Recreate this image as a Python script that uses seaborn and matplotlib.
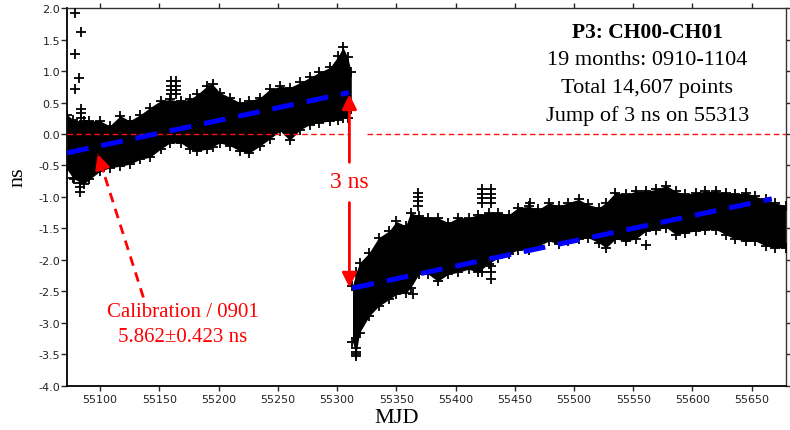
import numpy as np
import pandas as pd
import matplotlib
matplotlib.use("Agg")
import matplotlib.pyplot as plt
import seaborn as sns

# ---------------- data ----------------
# segment 1 (before the jump): MJD, upper / lower envelope of the scatter band (ns)
seg1_mjd = [55072, 55077, 55086, 55091, 55100, 55108, 55117, 55125, 55134, 55142,
            55151, 55159, 55168, 55176, 55182, 55190, 55195, 55201, 55210, 55218,
            55226, 55235, 55243, 55252, 55260, 55269, 55277, 55285, 55294, 55301,
            55305, 55309, 55312]
seg1_high = [0.31, 0.23, 0.20, 0.21, 0.21, 0.13, 0.29, 0.21, 0.31, 0.42,
             0.53, 0.55, 0.52, 0.56, 0.63, 0.76, 0.79, 0.66, 0.58, 0.50,
             0.53, 0.58, 0.71, 0.76, 0.74, 0.82, 0.90, 0.98, 1.06, 1.24,
             1.38, 1.22, 0.98]
seg1_low = [-0.56, -0.70, -0.80, -0.72, -0.59, -0.54, -0.51, -0.48, -0.40, -0.37,
            -0.24, -0.14, -0.14, -0.24, -0.27, -0.24, -0.20, -0.14, -0.19, -0.27,
            -0.30, -0.19, -0.08, 0.05, -0.10, 0.07, 0.15, 0.18, 0.21, 0.23,
            0.25, 0.26, 0.40]

# segment 2 (after the jump)
seg2_mjd = [55313, 55316, 55319, 55327, 55335, 55344, 55350, 55358, 55362, 55369,
            55377, 55385, 55394, 55402, 55411, 55419, 55428, 55436, 55445, 55453,
            55462, 55470, 55479, 55487, 55495, 55504, 55512, 55521, 55527, 55535,
            55544, 55552, 55561, 55569, 55578, 55586, 55594, 55603, 55611, 55620,
            55628, 55636, 55645, 55653, 55662, 55670, 55679]
seg2_high = [-2.42, -2.20, -2.05, -1.89, -1.65, -1.54, -1.39, -1.46, -1.25, -1.30,
             -1.33, -1.33, -1.41, -1.33, -1.33, -1.28, -1.25, -1.25, -1.28, -1.17,
             -1.15, -1.20, -1.09, -1.15, -1.09, -1.04, -1.12, -1.17, -1.09, -0.93,
             -0.96, -0.91, -0.91, -0.88, -0.82, -0.91, -0.96, -0.93, -0.91, -0.91,
             -0.93, -0.96, -0.93, -0.99, -1.04, -1.09, -1.15]
seg2_low = [-3.30, -3.50, -3.16, -2.90, -2.74, -2.63, -2.55, -2.53, -2.45, -2.23,
            -2.23, -2.34, -2.23, -2.20, -2.15, -2.20, -2.06, -1.97, -1.91, -1.84,
            -1.84, -1.78, -1.70, -1.75, -1.70, -1.67, -1.65, -1.73, -1.81, -1.67,
            -1.70, -1.67, -1.54, -1.52, -1.49, -1.60, -1.57, -1.54, -1.52, -1.52,
            -1.60, -1.67, -1.70, -1.70, -1.78, -1.81, -1.81]

# isolated / stacked points outside the band
out_mjd = [55079, 55084, 55079, 55082, 55079,
           55084, 55084, 55084, 55078, 55083, 55083, 55083,
           55160, 55160, 55160, 55160, 55164, 55164, 55164, 55164,
           55316, 55316, 55316,
           55368, 55368, 55368, 55368, 55364,
           55422, 55422, 55422, 55422, 55430, 55430, 55430, 55430,
           55422, 55422, 55430, 55430, 55430,
           55463, 55561]
out_ns = [1.92, 1.62, 1.28, 0.89, 0.72,
          0.40, 0.33, 0.26, -0.72, -0.78, -0.85, -0.92,
          0.84, 0.77, 0.70, 0.63, 0.84, 0.77, 0.70, 0.63,
          -3.40, -3.46, -3.53,
          -0.93, -1.00, -1.07, -1.14, -2.55,
          -0.88, -0.95, -1.02, -1.10, -0.88, -0.95, -1.02, -1.10,
          -2.10, -2.20, -2.10, -2.20, -2.31,
          -1.09, -1.76]

# linear fits (end points)
fit1_mjd = [55072, 55310]
fit1_ns = [-0.30, 0.66]
fit2_mjd = [55313, 55667]
fit2_ns = [-2.45, -1.03]

zero_segments = [(55072, 55311), (55325, 55679)]

x_ticks = list(range(55100, 55651, 50))
y_ticks = [-4.0, -3.5, -3.0, -2.5, -2.0, -1.5, -1.0, -0.5, 0.0, 0.5, 1.0, 1.5, 2.0]

info_lines = ["P3: CH00-CH01", "19 months: 0910-1104", "Total 14,607 points",
              "Jump of 3 ns on 55313"]
info_x = 55562
info_y = [1.62, 1.19, 0.74, 0.31]

jump_x = 55310.4
jump_top, jump_bottom = 0.63, -2.44
jump_text_y = -0.76

calib_tip = (55098, -0.32)
calib_tail = (55136.5, -2.60)
calib_text = ("Calibration / 0901", "5.862\u00b10.423 ns")
calib_text_x = 55170
calib_text_y = [-2.83, -3.22]

# ---------------- drawing ----------------
sns.set_theme(style="ticks")
plt.rcParams["font.family"] = ["DejaVu Sans"]
plt.rcParams["axes.unicode_minus"] = False
serif = ["Liberation Serif", "DejaVu Serif"]

fig = plt.figure(figsize=(7.9, 4.31), dpi=100)
ax = fig.add_axes([0.0848, 0.1032, 0.9102, 0.8752])
ax.set_facecolor("white")

ax.fill_between(seg1_mjd, seg1_low, seg1_high, color="black", lw=0, zorder=2)
ax.fill_between(seg2_mjd, seg2_low, seg2_high, color="black", lw=0, zorder=2)

env = pd.DataFrame({
    "mjd": seg1_mjd + seg1_mjd + seg2_mjd + seg2_mjd + out_mjd,
    "ns": seg1_high + seg1_low + seg2_high + seg2_low + out_ns,
})
sns.scatterplot(data=env, x="mjd", y="ns", marker="+", s=55, color="black",
                linewidth=1.3, ax=ax, zorder=3, legend=False)

for a, b in zero_segments:
    ax.plot([a, b], [0, 0], color="#ff1010", lw=1.0, linestyle=(0, (4, 2.5)), zorder=4)

for fx, fy in [(fit1_mjd, fit1_ns), (fit2_mjd, fit2_ns)]:
    sns.lineplot(x=fx, y=fy, ax=ax, color="#0000ff", lw=3.6,
                 linestyle=(0, (4.4, 2.6)), zorder=5, sort=False, estimator=None)

# 3 ns double arrow
arrow_kw = dict(arrowstyle="-|>", color="red", lw=2.0, mutation_scale=22,
                shrinkA=0, shrinkB=0)
ax.annotate("", xy=(jump_x, jump_top), xytext=(jump_x, -0.45),
            arrowprops=arrow_kw, zorder=6)
ax.annotate("", xy=(jump_x, jump_bottom), xytext=(jump_x, -1.09),
            arrowprops=arrow_kw, zorder=6)
ax.text(jump_x, jump_text_y, "3 ns", color="red", fontsize=17, family=serif,
        ha="center", va="center", zorder=6)

# calibration arrow (dashed shaft, solid head)
ax.plot([calib_tail[0], calib_tip[0]], [calib_tail[1], calib_tip[1]],
        color="red", lw=2.0, linestyle=(0, (3.5, 2.5)), zorder=6)
hx = calib_tip[0] + 0.12 * (calib_tail[0] - calib_tip[0])
hy = calib_tip[1] + 0.12 * (calib_tail[1] - calib_tip[1])
ax.annotate("", xy=calib_tip, xytext=(hx, hy),
            arrowprops=dict(arrowstyle="-|>", color="red", lw=2.0, mutation_scale=22,
                            shrinkA=0, shrinkB=0), zorder=6)
for t, yy in zip(calib_text, calib_text_y):
    ax.text(calib_text_x, yy, t, color="red", fontsize=15, family=serif,
            ha="center", va="center", zorder=6)

for i, (t, yy) in enumerate(zip(info_lines, info_y)):
    ax.text(info_x, yy, t, color="black", fontsize=15.5 if i == 0 else 16,
            family=serif, fontweight="bold" if i == 0 else "normal",
            ha="center", va="center", zorder=6)

# axes
ax.set_xlim(55072, 55679)
ax.set_ylim(-4.0, 2.0)
ax.set_xticks(x_ticks)
ax.set_xticklabels([str(v) for v in x_ticks])
ax.set_yticks(y_ticks)
ax.set_yticklabels([f"{v:.1f}" for v in y_ticks])
ax.tick_params(axis="x", direction="out", length=3.5, width=1.0, pad=2.5,
               top=True, labeltop=False, labelsize=8, labelcolor="#222222")
ax.tick_params(axis="y", direction="out", length=4, width=1.0, pad=0.8,
               right=True, labelright=False, labelsize=8, labelcolor="#222222")
for side in ["left", "bottom"]:
    ax.spines[side].set_linewidth(1.3)
    ax.spines[side].set_color("black")
for side in ["top", "right"]:
    ax.spines[side].set_linewidth(1.0)
    ax.spines[side].set_color("#333333")

ax.set_xlabel("MJD", fontsize=16, family=serif, color="black")
ax.set_ylabel("ns", fontsize=16, family=serif, color="black")
ax.xaxis.label.set_va("center")
ax.yaxis.label.set_va("center")
ax.xaxis.set_label_coords(0.459, -0.085)
ax.yaxis.set_label_coords(-0.068, 0.555)

fig.savefig("out.png", dpi=100, facecolor="white")
